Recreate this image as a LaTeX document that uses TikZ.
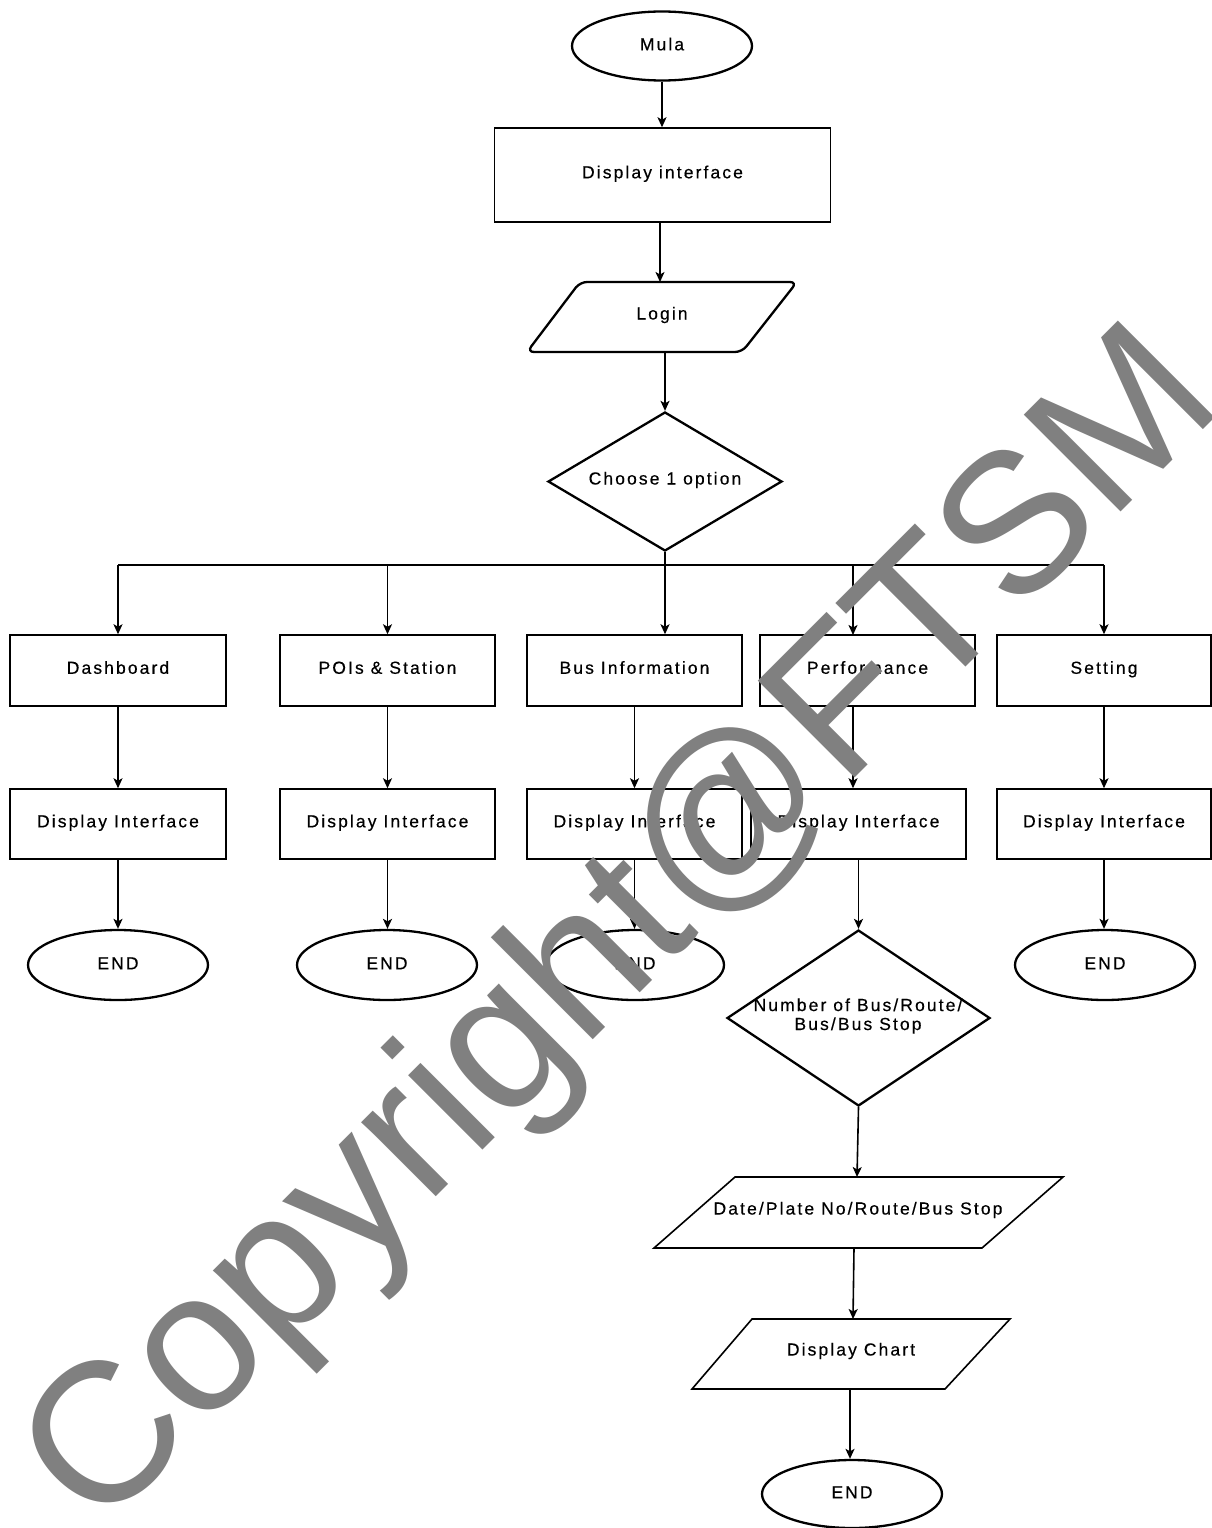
\documentclass[tikz,border=0pt]{standalone}
\usepackage{fontspec}
\setmainfont{Liberation Sans}[LetterSpace=12,FakeBold=0.4]
\newfontfamily\wmfont{Liberation Sans}
\usetikzlibrary{shapes.geometric,arrows.meta}
\definecolor{wmgray}{RGB}{128,128,128}
\begin{document}
\begin{tikzpicture}[x=1pt,y=-1pt,
  txt/.style={font=\fontsize{17.5}{19}\selectfont, text=black, inner sep=0pt},
  box/.style={draw, line width=1.5pt, rectangle, minimum width=216pt, minimum height=71pt, inner sep=0pt, txt, text height=12.6pt, text depth=6pt},
  term/.style={draw, line width=2.3pt, ellipse, minimum width=180pt, minimum height=69pt, inner sep=0pt, txt, text height=12.6pt, text depth=4pt},
  dec/.style={draw, line width=2.3pt, diamond, inner sep=0pt, txt},
  conn/.style={line width=1.6pt},
  arr/.style={conn, -{Stealth[length=10pt,width=9pt,inset=2.5pt]}},
]
\useasboundingbox[fill=white] (0,0) rectangle (1212,1528);

% top
\node[term] (mula) at (662,46) {Mula};
\node[box, minimum width=336pt, minimum height=94pt] (di) at (662.5,175) {Display interface};
\draw[line width=2.3pt, rounded corners=7pt] (580,282) -- (797,282) -- (742,352) -- (527,352) -- cycle;
\node[txt] (login) at (662,315) {Login};
\coordinate (loginT) at (660,282);
\coordinate (loginB) at (665,352);
\node[dec, minimum width=234pt, minimum height=139pt] (choose) at (665,481.5) {};
\node[txt] (chooseT) at (665,480) {Choose 1 option};

\draw[arr] (mula.south) -- (mula.south |- di.north);
\draw[arr] (di.south -| loginT) -- (loginT);
\draw[arr] (loginB) -- (choose.north);

% row 1
\node[box] (dash) at (118,670.5) {Dashboard};
\node[box, minimum width=215pt] (pois) at (387.5,670.5) {POIs \& Station};
\node[box, minimum width=215pt] (bus) at (634.5,670.5) {Bus Information};
\node[box, minimum width=215pt] (perf) at (867.5,670.5) {Performance};
\node[box, minimum width=214pt] (set) at (1104,670.5) {Setting};

\coordinate (bj) at (665,565);
\coordinate (perfIn) at (853,635);
\draw[conn] (dash.north |- bj) -- (set.north |- bj);
\draw[arr] (choose.south) -- (bus.north -| choose.south);
\draw[arr] (dash.north |- bj) -- (dash.north);
\draw[arr] (pois.north |- bj) -- (pois.north);
\draw[arr] (perfIn |- bj) -- (perfIn);
\draw[arr] (set.north |- bj) -- (set.north);

% row 2
\node[box, minimum height=70pt] (dash2) at (118,824) {Display Interface};
\node[box, minimum width=215pt, minimum height=70pt] (pois2) at (387.5,824) {Display Interface};
\node[box, minimum width=215pt, minimum height=70pt] (bus2) at (634.5,824) {Display Interface};
\node[box, minimum width=215pt, minimum height=70pt] (perf2) at (858.5,824) {Display Interface};
\node[box, minimum width=214pt, minimum height=70pt] (set2) at (1104,824) {Display Interface};

\draw[arr] (dash.south) -- (dash2.north);
\draw[arr] (pois.south) -- (pois2.north);
\draw[arr] (bus.south) -- (bus2.north);
\draw[arr] (perfIn |- perf.south) -- (perfIn |- perf2.north);
\draw[arr] (set.south) -- (set2.north);

% ends
\node[term, minimum height=70pt] (end1) at (118,965) {END};
\node[term, minimum height=70pt] (end2) at (387,965) {END};
\node[term, minimum width=178pt, minimum height=70pt] (end3) at (635,965) {END};
\node[term, minimum height=70pt] (end5) at (1105,965) {END};

\draw[arr] (dash2.south) -- (end1.north);
\draw[arr] (pois2.south) -- (pois2.south |- end2.north);
\draw[arr] (bus2.south) -- (bus2.south |- end3.north);
\draw[arr] (set2.south) -- (set2.south |- end5.north);

% performance branch
\node[dec, minimum width=263pt, minimum height=176pt] (num) at (858.5,1018) {};
\node[txt, align=center] (numT) at (858,1016) {Number of Bus/Route/\\Bus/Bus Stop};
\draw[arr] (perf2.south) -- (num.north);

\draw[conn] (735,1177) -- (1063,1177) -- (982,1248) -- (654,1248) -- cycle;
\node[txt] (date) at (858,1210) {Date/Plate No/Route/Bus Stop};
\coordinate (dateT) at (857,1177);
\coordinate (dateB) at (854,1248);
\draw[arr] (num.south) -- (dateT);

\draw[conn] (752,1319) -- (1010,1319) -- (945,1389) -- (692,1389) -- cycle;
\node[txt] (chart) at (851,1351) {Display Chart};
\coordinate (chartT) at (853,1319);
\coordinate (chartB) at (850,1389);
\draw[arr] (dateB) -- (chartT);

\node[term, minimum height=68pt] (end6) at (852,1494) {END};
\draw[arr] (chartB) -- (chartB |- end6.north);

% watermark
\node[rotate=45, text=wmgray, font=\wmfont\fontsize{199}{199}\selectfont, inner sep=0pt] (wm) at (626,934) {Copyright@FTSM};
\end{tikzpicture}
\end{document}
